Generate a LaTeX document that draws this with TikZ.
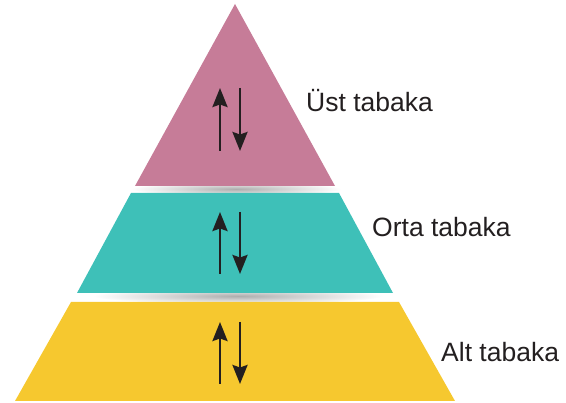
\documentclass[tikz,border=0pt]{standalone}
\usepackage{fontspec}
\setmainfont{Liberation Sans}
\usetikzlibrary{arrows.meta}
\definecolor{pinkL}{RGB}{198,124,152}
\definecolor{tealL}{RGB}{62,192,184}
\definecolor{ink}{RGB}{35,31,32}
\definecolor{yellowL}{RGB}{246,200,47}
\tikzset{
  layer/.style={draw=none},
  flow/.style={ink, line width=2.6pt, -{Stealth[length=19pt,width=15pt,inset=2.5pt]}},
  lbl/.style={anchor=base west, inner sep=0pt, text=ink, font=\fontsize{26.5}{30}\selectfont},
  shadowband/.style={inner color=black!32, outer color=white}
}
\begin{document}
\begin{tikzpicture}[x=1pt,y=-1pt]
\useasboundingbox (0,0) rectangle (566,403);
% shadows
\shade[shadowband] (236,189) ellipse [x radius=105, y radius=7];
\shade[shadowband] (238,296) ellipse [x radius=145, y radius=8];
% layers
\fill[pinkL, layer] (235,4) -- (335,186) -- (135,186) -- cycle;
\fill[tealL, layer] (131,193) -- (339,193) -- (393,293) -- (77,293) -- cycle;
\fill[yellowL, layer] (71,302) -- (399,302) -- (455,401) -- (15,401) -- cycle;
% arrow end points
\coordinate (t1a) at (220,151); \coordinate (t1b) at (220,88);
\coordinate (t2a) at (240,88);  \coordinate (t2b) at (240,151);
\coordinate (m1a) at (220,274); \coordinate (m1b) at (220,212);
\coordinate (m2a) at (240,212); \coordinate (m2b) at (240,274);
\coordinate (b1a) at (220,384); \coordinate (b1b) at (220,322);
\coordinate (b2a) at (240,322); \coordinate (b2b) at (240,384);
\draw[flow] (t1a) -- (t1b);
\draw[flow] (t2a) -- (t2b);
\draw[flow] (m1a) -- (m1b);
\draw[flow] (m2a) -- (m2b);
\draw[flow] (b1a) -- (b1b);
\draw[flow] (b2a) -- (b2b);
% labels
\node[lbl] (ust) at (306,112) {Üst tabaka};
\node[lbl] (orta) at (372,237) {Orta tabaka};
\node[lbl] (alt) at (441,362) {Alt tabaka};
\end{tikzpicture}
\end{document}
